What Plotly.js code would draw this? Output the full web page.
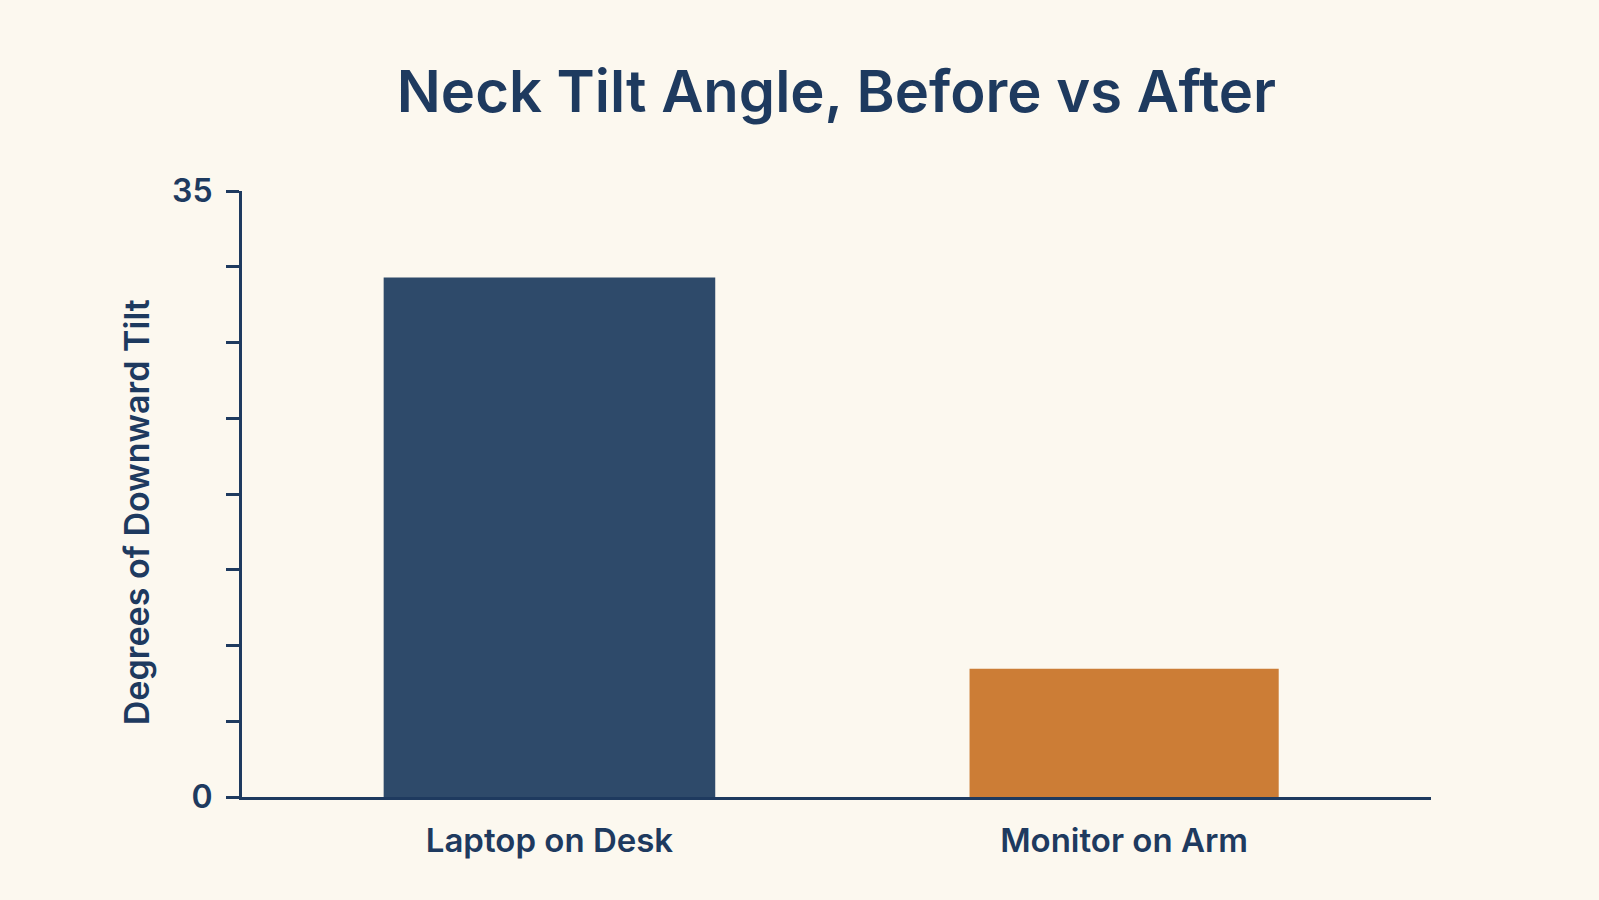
<!DOCTYPE html>
<html>
<head>
<meta charset="utf-8">
<script src="https://cdn.plot.ly/plotly-3.0.1.min.js"></script>
<style>
  html, body { margin: 0; padding: 0; background: #fcf8ef; }
  #chart { width: 1599px; height: 900px; }
</style>
</head>
<body>
<div id="chart"></div>
<script>
  // setups compared
  const setups = ['Laptop on Desk', 'Monitor on Arm'];
  // degrees of downward tilt
  const tilt = [30, 7.4];
  const barColors = ['#2e4a6a', '#cc7d36'];
  // y ticks: only the ends carry a label
  const yTickVals = [0, 4.375, 8.75, 13.125, 17.5, 21.875, 26.25, 30.625, 35];
  const yTickText = ['0', '', '', '', '', '', '', '', '35'];

  const navy = '#1e3a5f';
  const font = { family: 'Inter, "Noto Sans", sans-serif', color: navy, weight: 600 };

  var trace = {
    type: 'bar',
    x: setups,
    y: tilt,
    width: [0.577, 0.538],
    marker: { color: barColors, line: { width: 0 } },
    hoverinfo: 'x+y'
  };

  var layout = {
    width: 1599,
    height: 900,
    paper_bgcolor: '#fcf8ef',
    plot_bgcolor: '#fcf8ef',
    margin: { l: 242, r: 168, t: 191, b: 103 },
    showlegend: false,
    font: font,
    title: {
      text: 'Neck Tilt Angle, Before vs After',
      font: Object.assign({}, font, { size: 58 }),
      xref: 'paper',
      x: 0.5,
      xanchor: 'center',
      yref: 'container',
      y: 0.898,
      yanchor: 'middle'
    },
    xaxis: {
      range: [-0.535, 1.534],
      showline: true,
      linecolor: navy,
      linewidth: 3,
      showgrid: false,
      zeroline: false,
      ticks: '',
      ticklabelstandoff: 12,
      tickfont: Object.assign({}, font, { size: 33 })
    },
    yaxis: {
      range: [0, 35],
      showline: true,
      linecolor: navy,
      linewidth: 3,
      showgrid: false,
      zeroline: false,
      tickmode: 'array',
      tickvals: yTickVals,
      ticktext: yTickText,
      ticks: 'outside',
      ticklen: 13,
      tickwidth: 3,
      tickcolor: navy,
      ticklabelstandoff: 7,
      tickfont: Object.assign({}, font, { size: 32 })
    },
    annotations: [{
      text: 'Degrees of Downward Tilt',
      font: Object.assign({}, font, { size: 34 }),
      textangle: -90,
      xref: 'paper',
      yref: 'paper',
      x: 0,
      y: 0.47,
      xanchor: 'center',
      yanchor: 'middle',
      xshift: -106,
      showarrow: false
    }]
  };

  Plotly.newPlot('chart', [trace], layout, { displayModeBar: false, staticPlot: true });
</script>
</body>
</html>
